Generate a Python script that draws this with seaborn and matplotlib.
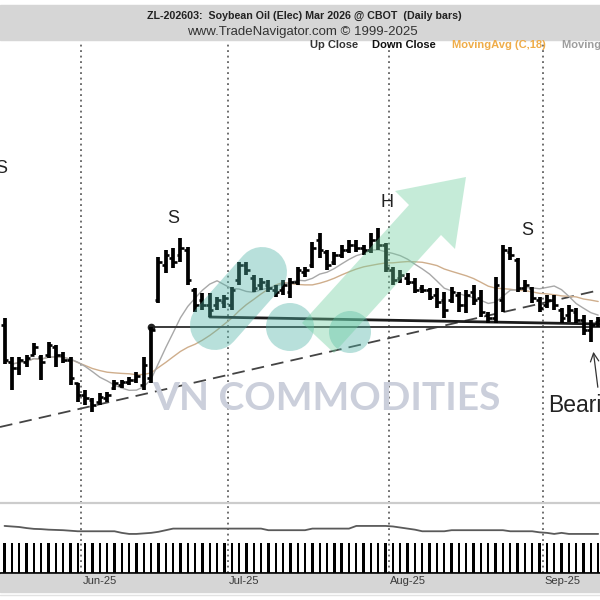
import matplotlib
matplotlib.use("Agg")
import matplotlib.pyplot as plt
from matplotlib.patches import Rectangle, Circle, Polygon
import numpy as np
import pandas as pd
import seaborn as sns

# ZL Mar 2026 daily bars (cents/lb), mid-May .. mid-Sep 2025
opens = [53.75, 51.90, 51.60, 51.90, 52.25, 52.15, 52.25, 52.65, 52.25, 52.00,
         50.85, 50.25, 50.00, 49.90, 50.10, 50.60, 50.75, 50.90, 51.00, 50.75,
         51.10, 55.00, 56.75, 57.10, 57.25, 57.50, 55.50, 55.00, 54.75, 54.75,
         54.90, 54.75, 56.00, 56.75, 56.10, 55.75, 55.75, 55.50, 55.50, 55.40,
         55.90, 56.40, 56.75, 58.00, 57.40, 56.90, 57.25, 57.50, 57.75, 57.60,
         57.50, 58.00, 57.75, 56.50, 56.10, 56.10, 55.90, 55.60, 55.50, 55.25,
         55.00, 55.00, 55.25, 54.75, 55.40, 55.10, 54.25, 54.10, 55.00, 57.40,
         57.00, 55.60, 55.60, 55.00, 54.75, 55.00, 54.50, 54.25, 54.40, 54.00,
         53.50, 53.90]
highs = [54.10, 52.15, 52.15, 52.25, 52.85, 52.25, 52.90, 52.75, 52.40, 52.15,
         50.85, 50.50, 50.10, 50.35, 50.40, 51.00, 51.00, 51.15, 51.40, 52.15,
         53.65, 57.15, 57.50, 57.60, 58.10, 57.65, 55.60, 55.35, 55.35, 55.15,
         55.25, 55.65, 56.90, 56.90, 56.25, 56.10, 56.00, 55.75, 56.00, 56.10,
         56.65, 56.65, 57.90, 58.35, 57.50, 57.40, 57.75, 58.00, 58.00, 57.75,
         58.35, 58.60, 57.85, 56.65, 56.50, 56.35, 56.10, 55.75, 55.60, 55.60,
         55.40, 55.65, 55.40, 55.50, 55.75, 55.50, 54.40, 56.15, 57.75, 57.65,
         57.10, 56.00, 55.65, 55.15, 55.25, 55.25, 54.60, 54.75, 54.60, 54.25,
         54.00, 54.15]
lows = [51.80, 50.50, 51.25, 51.65, 52.25, 51.00, 52.10, 51.65, 51.85, 50.75,
        49.90, 49.75, 49.40, 49.75, 49.90, 50.50, 50.60, 50.75, 50.85, 50.50,
        50.85, 54.85, 56.35, 56.60, 56.90, 55.75, 54.40, 54.50, 54.15, 54.50,
        54.60, 54.50, 55.75, 56.25, 55.40, 55.50, 55.40, 55.15, 55.25, 55.10,
        55.75, 56.15, 56.60, 57.10, 56.50, 56.75, 57.10, 57.35, 57.40, 57.25,
        57.35, 57.50, 56.40, 55.75, 55.85, 55.75, 55.35, 55.35, 55.00, 54.60,
        54.10, 54.85, 54.40, 54.35, 54.75, 54.15, 53.85, 53.85, 54.40, 57.00,
        55.40, 55.40, 54.85, 54.40, 54.60, 54.50, 53.85, 53.90, 53.85, 53.25,
        52.90, 53.65]
closes = [52.00, 51.60, 52.00, 52.10, 52.65, 51.90, 52.75, 52.25, 52.00, 51.10,
          50.25, 50.10, 49.75, 50.15, 50.25, 50.85, 50.90, 51.00, 51.20, 51.75,
          53.50, 56.90, 57.25, 56.90, 57.60, 56.00, 54.75, 54.75, 54.50, 55.00,
          55.10, 55.50, 56.75, 56.50, 55.60, 55.90, 55.60, 55.40, 55.75, 55.90,
          56.50, 56.50, 57.60, 57.50, 56.75, 57.25, 57.50, 57.75, 57.60, 57.50,
          58.00, 57.75, 56.60, 56.00, 56.25, 55.90, 55.50, 55.50, 55.15, 54.90,
          54.50, 55.40, 54.75, 55.25, 55.00, 54.40, 54.10, 55.75, 57.50, 57.25,
          55.60, 55.75, 55.10, 54.60, 55.00, 54.75, 54.10, 54.50, 54.00, 53.50,
          53.75, 54.00]

open_interest = [62.0, 61.8, 61.6, 61.2, 60.9, 60.8, 60.6, 60.5, 60.4, 60.2,
                 60.0, 60.0, 60.0, 60.0, 60.0, 60.0, 59.4, 59.0, 59.0, 59.2,
                 59.4, 59.8, 60.4, 61.0, 61.0, 61.0, 61.0, 61.0, 61.0, 61.0,
                 61.0, 61.0, 61.0, 61.0, 61.0, 61.0, 60.4, 60.4, 60.4, 60.4,
                 60.4, 60.4, 61.0, 61.0, 61.0, 61.0, 61.0, 61.0, 62.0, 62.0,
                 62.0, 62.0, 62.0, 61.8, 61.4, 61.0, 60.6, 60.0, 60.0, 60.0,
                 60.0, 60.4, 60.4, 60.4, 60.4, 60.4, 60.4, 60.4, 60.4, 60.0,
                 60.0, 60.0, 60.0, 59.6, 59.4, 59.0, 59.4, 59.0, 59.0, 59.0,
                 59.0, 59.0]

volume = [8200, 9100, 7600, 8800, 9400, 7900, 8300, 9900, 8700, 10200,
          11800, 9600, 10400, 8900, 9300, 8100, 7700, 8500, 9000, 12600,
          15800, 21400, 14300, 12100, 13500, 16900, 18200, 11700, 10900, 9800,
          9200, 10600, 13900, 9700, 10100, 8800, 9400, 8600, 9900, 10300,
          11200, 8900, 14100, 12800, 11600, 9500, 9900, 10700, 8900, 9300,
          11400, 10800, 17600, 14200, 10900, 9700, 10200, 8800, 9600, 11300,
          12500, 10800, 11900, 10400, 9800, 12700, 10900, 15600, 19800, 12400,
          14700, 10600, 11200, 12300, 10100, 9800, 12600, 11100, 10700, 13400,
          14800, 9600]

month_labels = ["Jun-25", "Jul-25", "Aug-25", "Sep-25"]
month_first_bar = [11, 31, 53, 74]

trend_bars = [-0.62, 81.25]
trend_prices = [48.65, 55.50]
neck_start = 20
support_start = 28
support_prices = [54.15, 53.80]

sns.set_style("white")
plt.rcParams["font.family"] = ["Liberation Sans", "DejaVu Sans"]

n = len(closes)
bars = np.arange(n)
df = pd.DataFrame({"bar": bars, "close": closes, "oi": open_interest})
df["ma_slow"] = df["close"].rolling(18, min_periods=1).mean()
df["ma_fast"] = df["close"].rolling(9, min_periods=1).mean()

xmin, xmax = -0.62, 81.25

fig = plt.figure(figsize=(6, 6), dpi=100)
ax = fig.add_axes([0, 1 - 503 / 600, 1, 463 / 600])
ax_oi = fig.add_axes([0, 1 - 541 / 600, 1, 38 / 600])
ax_vol = fig.add_axes([0, 1 - 573 / 600, 1, 30 / 600])

for a in (ax, ax_oi, ax_vol):
    a.set_xlim(xmin, xmax)
    a.set_axis_off()
    for m in month_first_bar:
        a.axvline(m - 0.5, color="#555555", lw=1.2, dashes=(1.1, 2.2), zorder=0)

ax.set_ylim(44.85, 68.0)

# moving averages
sns.lineplot(data=df, x="bar", y="ma_slow", color="#cfae8c", lw=1.0, ax=ax, zorder=2)
sns.lineplot(data=df, x="bar", y="ma_fast", color="#a8a8a8", lw=1.0, ax=ax, zorder=2)

# trend / neckline / support
ax.plot(trend_bars, trend_prices, color="#444444", lw=1.3, dashes=(7, 4), zorder=1)
ax.plot([neck_start, xmax], [highs[neck_start], highs[neck_start]],
        color="#3a3a3a", lw=1.4, zorder=3)
ax.plot([neck_start], [highs[neck_start]], "o", color="#222222", ms=4.5, zorder=4)
ax.plot([support_start, xmax], support_prices, color="#1c1c1c", lw=2.0, zorder=3)

# OHLC bars
ax.vlines(bars, lows, highs, color="black", lw=2.7, zorder=5)
ax.hlines(opens, bars - 0.5, bars, color="black", lw=1.9, zorder=5)
ax.hlines(closes, bars, bars + 0.5, color="black", lw=1.9, zorder=5)

# pattern labels
lab = dict(fontsize=13, color="#222222", ha="center", va="center")
ax.text(-0.48, 61.6, "S", **lab)
ax.text(23, 59.1, "S", **lab)
ax.text(52.2, 59.9, "H", **lab)
ax.text(71.3, 58.5, "S", **lab)
ax.text(74.2, 49.75, "Bearish", fontsize=16.5, color="#222222", ha="left", va="center")
ax.annotate("", xy=(80.3, 52.55), xytext=(81.0, 50.5),
            arrowprops=dict(arrowstyle="->,head_length=0.6,head_width=0.3",
                            color="#333333", lw=0.9))

# open interest panel
ax_oi.set_ylim(56.35, 70.6)
sns.lineplot(data=df, x="bar", y="oi", color="#5a5a5a", lw=1.3, ax=ax_oi)

# volume panel (clipped)
ax_vol.set_ylim(0, 3000)
ax_vol.bar(bars, volume, width=0.32, color="black", linewidth=0)
ax_vol.axhline(0, color="black", lw=2.0, clip_on=False)

# overlay: header, band, watermark
ov = fig.add_axes([0, 0, 1, 1], zorder=10)
ov.set_xlim(0, 600)
ov.set_ylim(600, 0)
ov.set_axis_off()
ov.patch.set_alpha(0)

ov.add_patch(Rectangle((0, 5), 600, 35, color="#d6d6d6", zorder=1))
ov.text(304, 16, "ZL-202603:  Soybean Oil (Elec) Mar 2026 @ CBOT  (Daily bars)",
        ha="center", va="center", fontsize=7.7, fontweight="bold", color="#222222")
ov.text(302, 32, "www.TradeNavigator.com \u00a9 1999-2025",
        ha="center", va="center", fontsize=9.5, color="#333333")
leg = dict(va="center", ha="left", fontsize=8, fontweight="bold")
ov.text(310, 45, "Up Close", color="#333333", **leg)
ov.text(372, 45, "Down Close", color="#111111", **leg)
ov.text(452, 45, "MovingAvg (C,18)", color="#efac48", **leg)
ov.text(562, 45, "MovingAvg (C,9)", color="#9d9d9d", **leg)

ov.plot([0, 600], [503, 503], color="#cccccc", lw=1.6)
ov.add_patch(Rectangle((0, 574), 600, 18, color="#d6d6d6"))
for m, lbl in zip(month_first_bar, month_labels):
    px = (m - 0.5 - xmin) / (xmax - xmin) * 600
    ov.text(px + 1, 581, lbl, ha="left", va="center", fontsize=8, color="#3a3a3a")
ov.plot([0, 600], [595, 595], color="#e2e2e2", lw=1.0)

# VN COMMODITIES watermark
teal = "#4fb3a6"
mint = "#6fcf9f"
ov.plot([215, 262], [325, 272], lw=50 * 0.72, solid_capstyle="round",
        color=teal, alpha=0.4, zorder=6)
ov.add_patch(Circle((290, 327), 24, color=teal, alpha=0.4, lw=0, zorder=6))
ov.add_patch(Circle((350, 332), 21, color=teal, alpha=0.4, lw=0, zorder=6))
ov.add_patch(Polygon([(302, 323), (409, 205), (395, 191), (466, 177),
                      (455, 249), (441, 235), (334, 353)],
                     closed=True, color=mint, alpha=0.4, lw=0, zorder=6))
ov.text(326, 398, "VN COMMODITIES", ha="center", va="center", fontsize=28,
        fontweight="bold", family="Lato", color="#cbcfdb", zorder=7)

fig.savefig("out.png", dpi=100)
